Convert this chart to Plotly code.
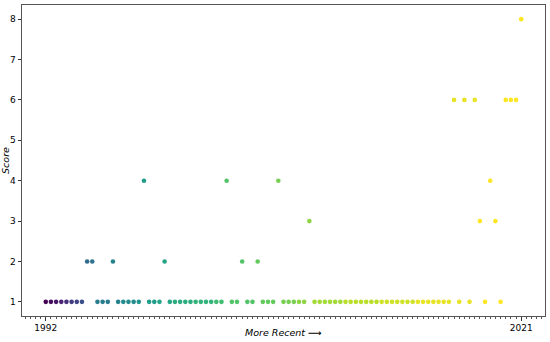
import plotly.graph_objects as go

# Scores in chronological order (oldest -> most recent)
scores = [1, 1, 1, 1, 1, 1, 1, 1, 2, 2,
          1, 1, 1, 2, 1, 1, 1, 1, 1, 4,
          1, 1, 1, 2, 1, 1, 1, 1, 1, 1,
          1, 1, 1, 1, 1, 4, 1, 1, 2, 1,
          1, 2, 1, 1, 1, 4, 1, 1, 1, 1,
          1, 3, 1, 1, 1, 1, 1, 1, 1, 1,
          1, 1, 1, 1, 1, 1, 1, 1, 1, 1,
          1, 1, 1, 1, 1, 1, 1, 1, 1, 6,
          1, 6, 1, 6, 3, 1, 4, 3, 1, 6,
          6, 6, 8]
# Year of each entry (drives the colour)
years = [1992, 1993, 1994, 1995, 1996, 1997, 1998, 1999, 2002, 2003,
         2004, 2004, 2004, 2005, 2005, 2006, 2006, 2006, 2007, 2008,
         2008, 2008, 2009, 2009, 2009, 2010, 2010, 2010, 2010, 2011,
         2011, 2011, 2011, 2012, 2012, 2013, 2013, 2013, 2013, 2013,
         2013, 2014, 2014, 2014, 2014, 2015, 2015, 2015, 2015, 2016,
         2016, 2016, 2017, 2017, 2017, 2017, 2017, 2017, 2018, 2018,
         2018, 2018, 2018, 2018, 2018, 2019, 2019, 2019, 2019, 2019,
         2019, 2019, 2020, 2020, 2020, 2020, 2020, 2020, 2020, 2020,
         2020, 2020, 2020, 2020, 2021, 2021, 2021, 2021, 2021, 2021,
         2021, 2021, 2021]
order = list(range(len(scores)))
first_year_label = "1992"
last_year_label = "2021"
y_ticks = [1, 2, 3, 4, 5, 6, 7, 8]

n = len(scores)
pad_x = 0.05 * (n - 1)
pad_y = 0.05 * (max(scores) - min(scores))

fig = go.Figure(go.Scatter(
    x=order, y=scores, mode="markers",
    marker=dict(size=4.6, color=years, colorscale="Viridis",
                cmin=min(years), cmax=max(years), line=dict(width=0)),
    customdata=years,
    hovertemplate="%{customdata}: %{y}<extra></extra>",
))

font = dict(family="DejaVu Sans", size=9, color="black")
fig.update_layout(
    width=550, height=342,
    margin=dict(l=22, r=5, t=5, b=26),
    paper_bgcolor="white", plot_bgcolor="white",
    showlegend=False, font=font,
    xaxis=dict(
        range=[-pad_x, n - 1 + pad_x],
        tickmode="array", tickvals=[0, n - 1],
        ticktext=[first_year_label, last_year_label],
        ticks="outside", ticklen=3.5, tickwidth=0.8, tickcolor="#333",
        minor=dict(ticks="outside", ticklen=2, tickwidth=0.6,
                   tickcolor="#555", tickmode="linear", tick0=0, dtick=1,
                   showgrid=False),
        showgrid=False, zeroline=False,
        showline=True, linecolor="#555", linewidth=1, mirror=True,
        automargin=False,
    ),
    yaxis=dict(
        range=[min(scores) - pad_y, max(scores) + pad_y],
        tickmode="array", tickvals=y_ticks,
        ticks="outside", ticklen=3.5, tickwidth=0.8, tickcolor="#333",
        showgrid=False, zeroline=False,
        showline=True, linecolor="#555", linewidth=1, mirror=True,
        title=dict(text="<i>Score</i>", standoff=2,
                   font=dict(family="DejaVu Sans", size=9.5, color="black")),
        automargin=False,
    ),
    annotations=[dict(
        text="<i>More Recent ⟶</i>", xref="paper", yref="paper",
        x=0.5, y=-17 / 311, xanchor="center", yanchor="middle",
        showarrow=False,
        font=dict(family="DejaVu Sans", size=9.5, color="black"),
    )],
)

fig.write_html("out.html", config={"displayModeBar": False},
               post_script="document.body.style.margin='0';")
